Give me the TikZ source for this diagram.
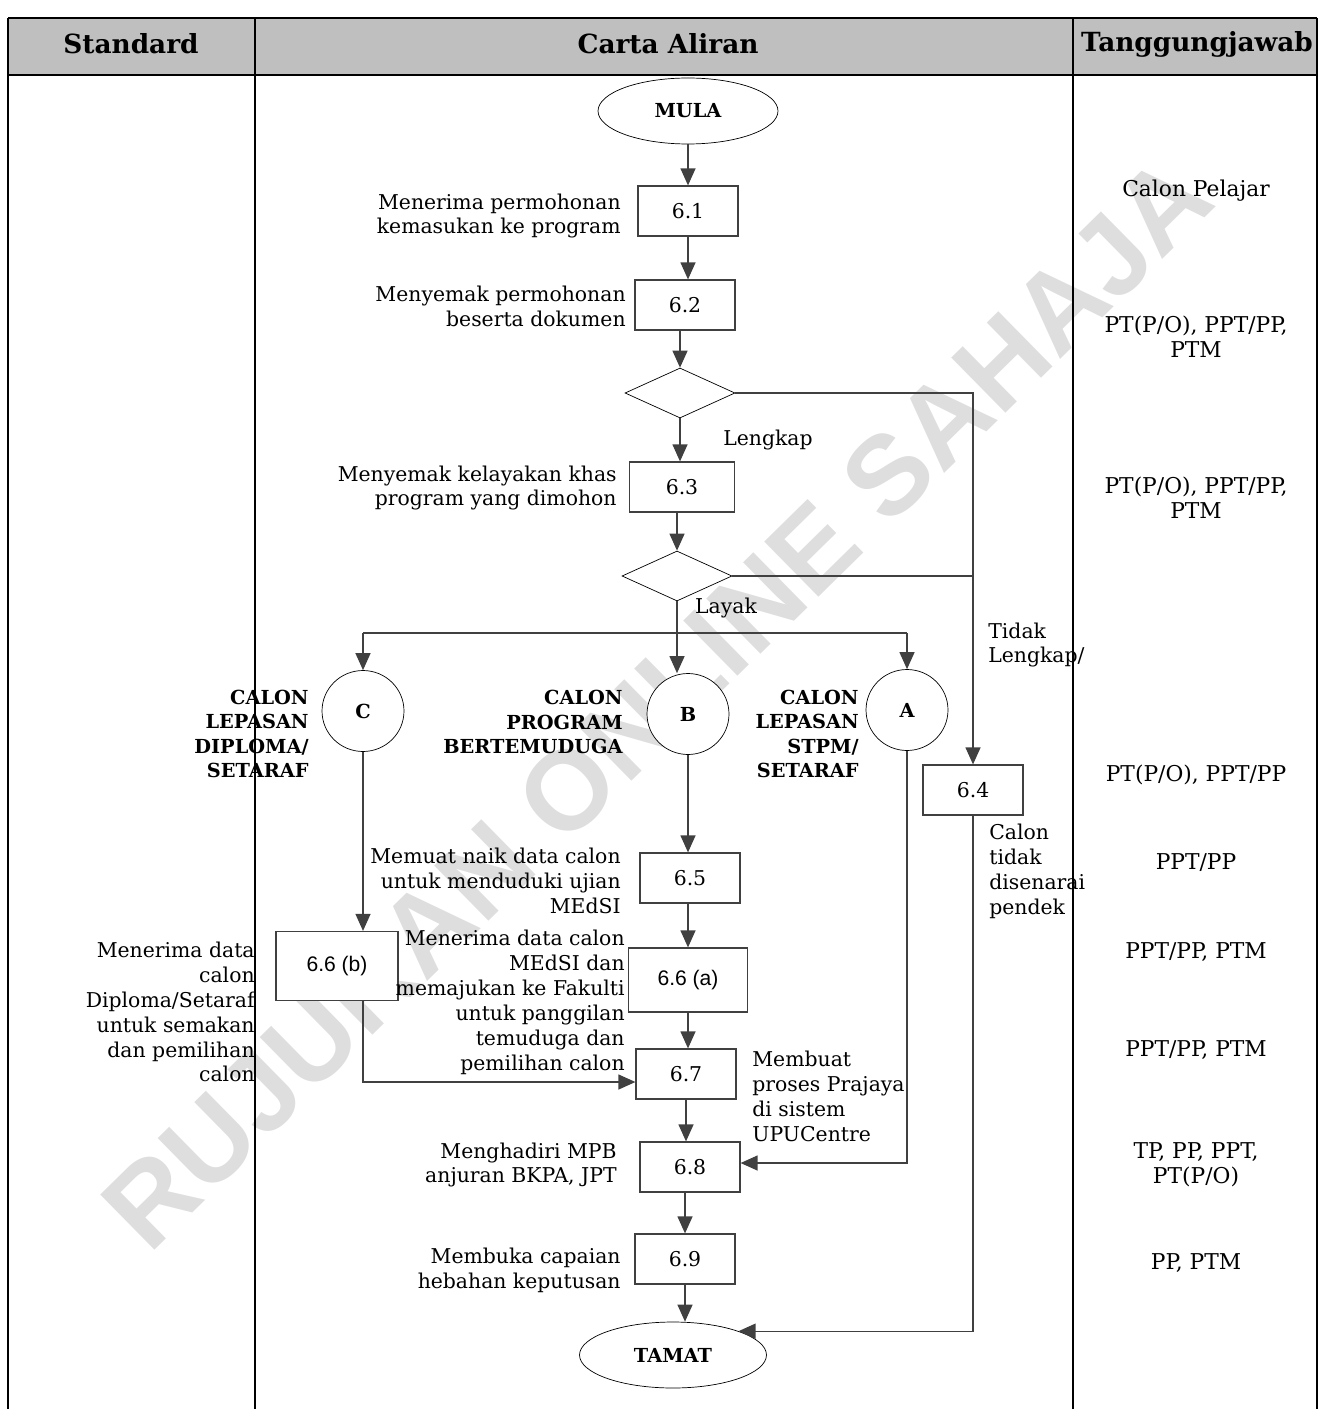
\documentclass[tikz,border=0pt]{standalone}
\usepackage{fontspec}
\setmainfont{DejaVu Serif}
\setsansfont{Liberation Sans}
\usepackage{tikz}
\usetikzlibrary{positioning,arrows.meta,shapes.geometric}

\newcommand{\teks}{\fontsize{11.6}{14.2}\selectfont}

\begin{document}
\begin{tikzpicture}[
            x=0.02cm, y=-0.02cm,
            % Style garis dan anak panah
            garis/.style={draw=black!75, line width=0.7pt},
            panah/.style={garis, -{Triangle[length=0.34cm, width=0.3cm]}},
            % Style kotak proses
            proses/.style={
                draw=black!75, line width=0.7pt,
                minimum width=2cm,
                minimum height=1cm,
                inner sep=0pt,
                font=\teks,
                fill=white
            },
            % Style keputusan
            keputusan/.style={draw=black, diamond, minimum width=2.2cm, minimum height=1cm, inner sep=0pt, fill=white},
            % Style mula / tamat
            terminal/.style={draw=black, ellipse, minimum width=3.6cm, minimum height=1.32cm, font=\fontsize{11}{13}\selectfont\bfseries, fill=white},
            % Style penyambung A, B, C
            penyambung/.style={draw=black, ellipse, minimum width=1.64cm, minimum height=1.62cm, font=\fontsize{11}{13}\selectfont\bfseries, fill=white},
            % Style keterangan
            ket/.style={font=\teks, align=right, anchor=east, inner sep=0pt},
            ketkanan/.style={font=\teks, align=left, anchor=west, inner sep=0pt},
            kumpulan/.style={font=\fontsize{11}{13.9}\selectfont\bfseries, align=right, anchor=east, inner sep=0pt},
            tgjwb/.style={font=\fontsize{12.4}{14.2}\selectfont, align=center},
            tajuk/.style={font=\fontsize{15}{18}\selectfont\bfseries}
        ]
            \useasboundingbox (0,0) rectangle (1325,1409);

            % --- TERA AIR ---
            \node[rotate=44.5, text=black!13, font=\fontsize{64}{64}\selectfont\sffamily\bfseries] (teraair) at (657,702) {RUJUKAN ONLINE SAHAJA};

            % --- JADUAL ---
            \fill[black!25] (8,18) rectangle (1317,75);
            \draw[line width=1.4pt] (8,18) -- (1317,18);
            \draw[line width=1.4pt] (8,75) -- (1317,75);
            \draw[line width=1.4pt] (8,18) -- (8,1409);
            \draw[line width=1.4pt] (255,18) -- (255,1409);
            \draw[line width=1.4pt] (1073,18) -- (1073,1409);
            \draw[line width=1.4pt] (1317,18) -- (1317,1409);

            \node[tajuk] (hstandard) at (131,44) {Standard};
            \node[tajuk] (hcarta) at (668,44) {Carta Aliran};
            \node[tajuk] (htgjwb) at (1197,44) {Tanggungjawab};

            % --- CARTA ALIRAN ---
            \node[terminal] (mula) at (688,111) {MULA};

            \node[proses] (p61) at (688,211) {6.1};
            \node[ket] at (621,216) {Menerima permohonan\\kemasukan ke program};

            \node[proses] (p62) at (685,305) {6.2};
            \node[ket] at (626,306) {Menyemak permohonan\\beserta dokumen};

            \node[keputusan] (d1) at (680,393) {};

            \node[proses, minimum width=2.1cm] (p63) at (682,487) {6.3};
            \node[ket] at (617,488) {Menyemak kelayakan khas\\program yang dimohon};

            \node[keputusan] (d2) at (677,576) {};

            \node[font=\teks] (lengkap) at (768,440) {Lengkap};
            \node[font=\teks] (layak) at (726,608) {Layak};

            % Penyambung C, B, A
            \node[penyambung] (pc) at (363,711) {C};
            \node[penyambung] (pb) at (688,714) {B};
            \node[penyambung] (pa) at (907,710) {A};
            \coordinate (cabang) at (677,633);

            \node[kumpulan] at (309,734) {CALON\\LEPASAN\\DIPLOMA/\\SETARAF};
            \node[kumpulan] at (623,722) {CALON\\PROGRAM\\BERTEMUDUGA};
            \node[kumpulan] at (859,734) {CALON\\LEPASAN\\STPM/\\SETARAF};

            \node[proses] (p64) at (973,790) {6.4};
            \node[ketkanan] at (988,645) {Tidak\\Lengkap/};
            \node[ketkanan] at (989,871) {Calon\\tidak\\disenarai\\pendek};

            \node[proses] (p65) at (690,878) {6.5};
            \node[ket] at (621,881) {Memuat naik data calon\\untuk menduduki ujian\\MEdSI};

            \node[proses, minimum width=2.44cm, minimum height=1.38cm, font=\fontsize{12}{14}\selectfont\sffamily] (p66b) at (337,966) {6.6 (b)};
            \node[ket] at (255,1012) {Menerima data\\calon\\Diploma/Setaraf\\untuk semakan\\dan pemilihan\\calon};

            \node[proses, minimum width=2.38cm, minimum height=1.28cm, font=\fontsize{12}{14}\selectfont\sffamily] (p66a) at (688,980) {6.6 (a)};
            \node[ket] at (625,1002) {Menerima data calon\\MEdSI dan\\memajukan ke Fakulti\\untuk panggilan\\temuduga dan\\pemilihan calon};

            \node[proses] (p67) at (686,1074) {6.7};
            \node[ketkanan] at (752,1096) {Membuat\\proses Prajaya\\di sistem\\UPUCentre};

            \node[proses] (p68) at (690,1167) {6.8};
            \node[ket] at (617,1165) {Menghadiri MPB\\anjuran BKPA, JPT};

            \node[proses] (p69) at (685,1259) {6.9};
            \node[ket] at (621,1270) {Membuka capaian\\hebahan keputusan};

            \node[terminal, minimum width=3.74cm] (tamat) at (673,1355) {TAMAT};

            % --- ANAK PANAH ---
            \draw[panah] (mula.south) -- (mula.south |- p61.north);
            \draw[panah] (p61.south) -- (p61.south |- p62.north);
            \draw[panah] (p62.south -| d1) -- (d1.north);
            \draw[panah] (d1.south) -- (d1.south |- p63.north);
            \draw[panah] (p63.south -| d2) -- (d2.north);
            \draw[panah] (d1.east) -| (p64.north);
            \draw[garis] (d2.east) -- (d2.east -| p64.north);

            \draw[panah] (d2.south) -- (d2.south |- pb.north);
            \draw[garis] (cabang -| pc) -- (cabang -| pa);
            \draw[panah] (cabang -| pc) -- (pc.north);
            \draw[panah] (cabang -| pa) -- (pa.north);

            \draw[panah] (pc.south) -- (pc.south |- p66b.north);
            \draw[panah] (pb.south) -- (pb.south |- p65.north);
            \draw[panah] (p65.south -| p66a) -- (p66a.north);
            \draw[panah] (p66a.south) -- (p66a.south |- p67.north);
            \draw[panah] (p66b.south -| pc) |- ([yshift=-0.16cm]p67.west);
            \draw[panah] (p67.south) -- (p67.south |- p68.north);
            \draw[panah] (pa.south) |- ([yshift=0.08cm]p68.east);
            \draw[panah] (p68.south -| p69) -- (p69.north);
            \draw[panah] (p69.south) -- (p69.south |- tamat.north);
            \draw[panah] (p64.south) |- (tamat.20);

            % --- TANGGUNGJAWAB ---
            \node[tgjwb] at (1196,191) {Calon Pelajar};
            \node[tgjwb] at (1196,337) {PT(P/O), PPT/PP,\\PTM};
            \node[tgjwb] at (1196,498) {PT(P/O), PPT/PP,\\PTM};
            \node[tgjwb] at (1196,775) {PT(P/O), PPT/PP};
            \node[tgjwb] at (1196,863) {PPT/PP};
            \node[tgjwb] at (1196,952) {PPT/PP, PTM};
            \node[tgjwb] at (1196,1050) {PPT/PP, PTM};
            \node[tgjwb] at (1196,1165) {TP, PP, PPT,\\PT(P/O)};
            \node[tgjwb] at (1196,1263) {PP, PTM};

        \end{tikzpicture}
\end{document}
